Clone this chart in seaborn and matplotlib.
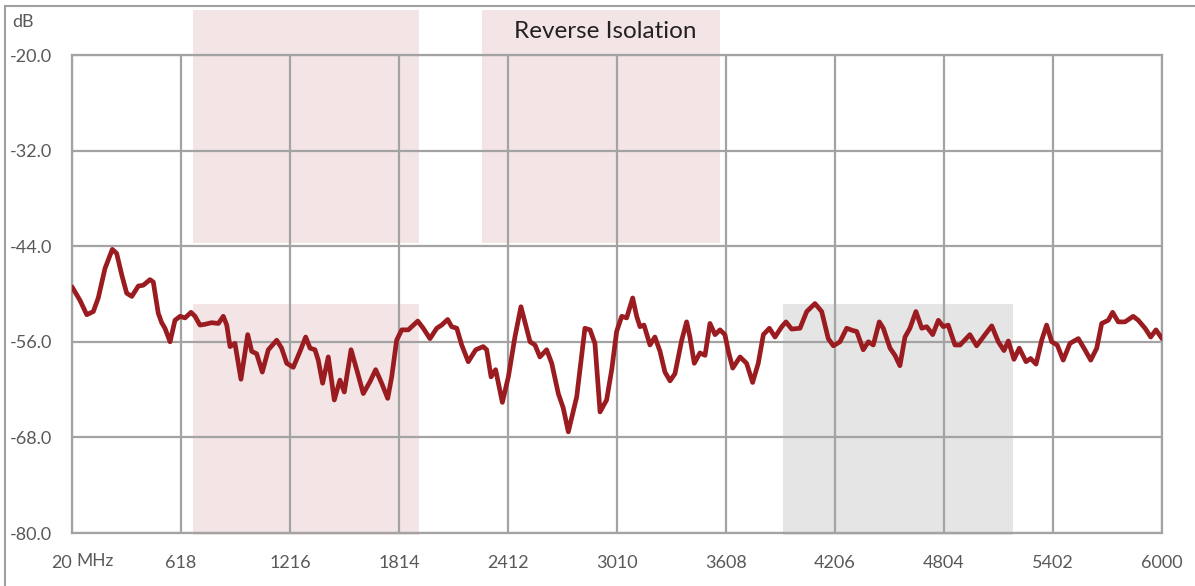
import matplotlib
matplotlib.use("Agg")
import matplotlib.pyplot as plt
import seaborn as sns
import pandas as pd
from matplotlib.lines import Line2D
from matplotlib.patches import Rectangle

# frequency sweep (MHz) and reverse isolation (dB)
freq_mhz = [20, 64, 101, 137, 164, 201, 241, 265, 293, 320, 348, 384, 411, 448, 466,
            493, 512, 530, 558, 585, 613, 640, 673, 695, 722, 750, 786, 823, 850, 869,
            887, 914, 947, 984, 1006, 1033, 1064, 1097, 1143, 1170, 1198, 1234, 1271,
            1302, 1326, 1353, 1371, 1395, 1426, 1459, 1490, 1514, 1551, 1582, 1618,
            1655, 1686, 1719, 1752, 1774, 1801, 1829, 1865, 1917, 1947, 1984, 2021,
            2048, 2081, 2103, 2131, 2158, 2194, 2235, 2276, 2295, 2319, 2344, 2381,
            2414, 2450, 2483, 2533, 2560, 2587, 2624, 2652, 2688, 2715, 2743, 2789,
            2807, 2834, 2862, 2889, 2917, 2953, 2981, 3008, 3036, 3063, 3096, 3118,
            3136, 3158, 3191, 3218, 3246, 3273, 3301, 3328, 3365, 3392, 3410, 3434,
            3465, 3493, 3520, 3548, 3575, 3602, 3621, 3645, 3685, 3721, 3754, 3785,
            3813, 3846, 3877, 3914, 3937, 3968, 4014, 4051, 4096, 4133, 4169, 4197,
            4233, 4270, 4306, 4325, 4361, 4389, 4416, 4449, 4471, 4508, 4535, 4562,
            4590, 4617, 4650, 4682, 4709, 4742, 4773, 4800, 4827, 4864, 4892, 4946,
            4983, 5029, 5066, 5102, 5133, 5157, 5188, 5217, 5254, 5279, 5309, 5340,
            5367, 5395, 5425, 5458, 5495, 5541, 5577, 5609, 5642, 5669, 5705, 5729,
            5760, 5797, 5842, 5870, 5907, 5938, 5967, 6000]
isolation_db = [-49.1, -50.8, -52.6, -52.2, -50.5, -46.8, -44.4, -44.9, -47.6, -49.9,
                -50.3, -49.0, -48.9, -48.2, -48.5, -52.4, -53.6, -54.3, -56.0, -53.3,
                -52.8, -53.0, -52.3, -52.8, -53.9, -53.8, -53.6, -53.7, -52.8, -53.9,
                -56.6, -56.2, -60.7, -55.1, -57.2, -57.5, -59.8, -57.0, -55.8, -56.8,
                -58.7, -59.2, -57.2, -55.4, -56.8, -57.0, -58.3, -61.2, -57.9, -63.3,
                -60.8, -62.3, -57.0, -59.5, -62.5, -61.0, -59.5, -61.2, -63.1, -60.4,
                -55.8, -54.5, -54.5, -53.4, -54.3, -55.6, -54.3, -53.9, -53.2, -54.1,
                -54.3, -56.4, -58.5, -57.0, -56.6, -57.0, -60.4, -59.5, -63.6, -60.4,
                -55.4, -51.6, -56.0, -56.4, -57.9, -57.0, -58.7, -62.5, -64.3, -67.3,
                -62.9, -59.5, -54.3, -54.5, -56.2, -64.8, -63.3, -59.5, -54.7, -52.8,
                -53.0, -50.5, -52.8, -54.1, -53.9, -56.4, -55.4, -57.2, -59.8, -60.9,
                -60.0, -55.8, -53.5, -55.4, -58.7, -57.4, -57.7, -53.7, -55.1, -54.5,
                -55.1, -57.2, -59.3, -57.9, -58.7, -61.1, -58.7, -55.1, -54.3, -55.4,
                -54.1, -53.5, -54.4, -54.3, -52.2, -51.2, -52.2, -55.6, -56.5, -56.0,
                -54.3, -54.6, -54.7, -57.0, -56.0, -56.4, -53.5, -54.3, -56.8, -57.7,
                -59.0, -55.4, -54.3, -52.2, -54.3, -54.1, -55.1, -53.3, -54.1, -53.9,
                -56.4, -56.4, -55.1, -56.5, -55.1, -54.0, -56.0, -57.1, -55.9, -58.2,
                -56.8, -58.5, -58.1, -58.8, -55.8, -53.9, -56.0, -56.4, -58.3, -56.2,
                -55.6, -57.0, -58.3, -56.8, -53.7, -53.3, -52.3, -53.5, -53.5, -52.8,
                -53.3, -54.3, -55.4, -54.5, -55.6]

x_ticks = [20, 618, 1216, 1814, 2412, 3010, 3608, 4206, 4804, 5402, 6000]
y_ticks = [-80.0, -68.0, -56.0, -44.0, -32.0, -20.0]

# shaded limit bands: (start MHz, end MHz, low dB, high dB, colour)
bands = [
    (685, 1925, -43.6, -14.3, "#f3e5e5"),
    (685, 1925, -80.25, -51.25, "#f3e5e5"),
    (2268, 3575, -43.6, -14.3, "#f3e5e5"),
    (3919, 5180, -80.25, -51.25, "#e5e5e5"),
]

df = pd.DataFrame({"freq": freq_mhz, "db": isolation_db})

sns.set_style("white")
plt.rcParams["font.family"] = ["Lato", "DejaVu Sans"]

fig = plt.figure(figsize=(11.95, 5.86), dpi=100)
ax = fig.add_axes([72 / 1195, 53 / 586, 1090 / 1195, 478 / 586])

grid_col = "#a3a3a3"
for x0, x1, y0, y1, c in bands:
    ax.add_patch(Rectangle((x0, y0), x1 - x0, y1 - y0, facecolor=c,
                           edgecolor="none", clip_on=False, zorder=0))

sns.lineplot(data=df, x="freq", y="db", ax=ax, color="#9b1c20", linewidth=3.4,
             solid_joinstyle="round", solid_capstyle="round", zorder=3)

ax.set_xlim(20, 6000)
ax.set_ylim(-80, -20)
ax.set_xticks(x_ticks)
ax.set_yticks(y_ticks)
ax.set_xticklabels([""] + [str(t) for t in x_ticks[1:]])
ax.set_yticklabels([f"{t:.1f}" for t in y_ticks])
ax.grid(True, color=grid_col, linewidth=1.6, zorder=1)
ax.set_axisbelow(True)
for s in ax.spines.values():
    s.set_color(grid_col)
    s.set_linewidth(1.6)
ax.set_xlabel("")
ax.set_ylabel("")

ax.tick_params(axis="both", length=0, labelsize=13, labelcolor="#595959")
ax.tick_params(axis="x", pad=16)
ax.tick_params(axis="y", pad=44.5)
for lab in ax.get_yticklabels():
    lab.set_ha("left")

# first x label "20 MHz"
ax.annotate("20", xy=(20, 0), xycoords=("data", "axes fraction"), xytext=(0, -16),
            textcoords="offset points", ha="right", va="top", fontsize=13, color="#595959")
ax.annotate("MHz", xy=(20, 0), xycoords=("data", "axes fraction"), xytext=(3.5, -14.5),
            textcoords="offset points", ha="left", va="top", fontsize=12.5, color="#595959")

fig.text(12 / 1195, 1 - 22 / 586, "dB", ha="left", va="center", fontsize=13, color="#595959")
fig.text(605 / 1195, 1 - 32 / 586, "Reverse Isolation", ha="center", va="center",
         fontsize=17.5, color="#222222")

# outer frame (top and left edges)
fig.add_artist(Line2D([5 / 1195, 1], [1 - 6 / 586, 1 - 6 / 586], color="#a0a0a0", lw=1.5))
fig.add_artist(Line2D([5 / 1195, 5 / 1195], [0, 1 - 6 / 586], color="#a0a0a0", lw=1.5))

fig.savefig("out.png", dpi=100)
